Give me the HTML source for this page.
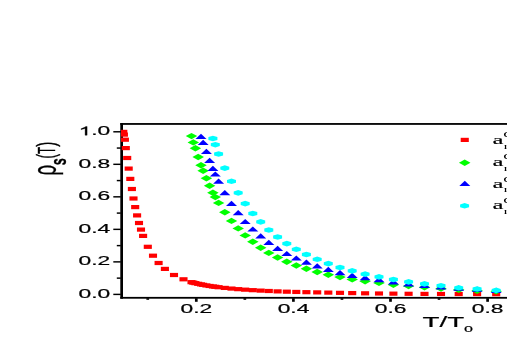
<!DOCTYPE html>
<html><head><meta charset="utf-8"><title>plot</title>
<style>
html,body{margin:0;padding:0;background:#fff;}
body{width:507px;height:338px;overflow:hidden;font-family:"Liberation Sans",sans-serif;}
svg{display:block;will-change:transform}
text{filter:grayscale(1)}
.s{font-family:"Liberation Sans",sans-serif;fill:#000;stroke:#000;stroke-width:0.2px}
.r{font-family:"Liberation Serif",serif;fill:#000;stroke:#000;stroke-width:0.2px}
.r2{font-family:"Liberation Serif",serif;fill:#000}
</style></head><body>
<svg width="507" height="338" viewBox="0 0 507 338">
<defs><clipPath id="cp"><rect x="121.0" y="123.8" width="400" height="173.6"/></clipPath></defs>
<rect x="0" y="0" width="507" height="338" fill="#ffffff"/>
<rect x="120.3" y="123.05" width="2.70" height="175.65" fill="#000000"/>
<rect x="120.3" y="123.05" width="386.7" height="1.80" fill="#000000"/>
<rect x="120.3" y="296.9" width="386.7" height="1.80" fill="#000000"/>
<rect x="113.3" y="293.67" width="7.50" height="1.45" fill="#000000"/>
<rect x="116.8" y="277.41" width="4.00" height="1.45" fill="#000000"/>
<rect x="113.3" y="261.15" width="7.50" height="1.45" fill="#000000"/>
<rect x="116.8" y="244.89" width="4.00" height="1.45" fill="#000000"/>
<rect x="113.3" y="228.63" width="7.50" height="1.45" fill="#000000"/>
<rect x="116.8" y="212.37" width="4.00" height="1.45" fill="#000000"/>
<rect x="113.3" y="196.11" width="7.50" height="1.45" fill="#000000"/>
<rect x="116.8" y="179.85" width="4.00" height="1.45" fill="#000000"/>
<rect x="113.3" y="163.59" width="7.50" height="1.45" fill="#000000"/>
<rect x="116.8" y="147.33" width="4.00" height="1.45" fill="#000000"/>
<rect x="113.3" y="131.07" width="7.50" height="1.45" fill="#000000"/>
<rect x="146.40" y="298.2" width="2.7" height="1.60" fill="#000000"/>
<rect x="194.95" y="298.2" width="2.7" height="3.60" fill="#000000"/>
<rect x="243.50" y="298.2" width="2.7" height="1.60" fill="#000000"/>
<rect x="292.05" y="298.2" width="2.7" height="3.60" fill="#000000"/>
<rect x="340.60" y="298.2" width="2.7" height="1.60" fill="#000000"/>
<rect x="389.15" y="298.2" width="2.7" height="3.60" fill="#000000"/>
<rect x="437.70" y="298.2" width="2.7" height="1.60" fill="#000000"/>
<rect x="486.25" y="298.2" width="2.7" height="3.60" fill="#000000"/>
<text transform="translate(78.60,297.81) scale(1.870,1)" font-size="12.20" font-weight="normal" class="s">0.0</text>
<text transform="translate(78.60,265.29) scale(1.870,1)" font-size="12.20" font-weight="normal" class="s">0.2</text>
<text transform="translate(78.60,232.77) scale(1.870,1)" font-size="12.20" font-weight="normal" class="s">0.4</text>
<text transform="translate(78.60,200.25) scale(1.870,1)" font-size="12.20" font-weight="normal" class="s">0.6</text>
<text transform="translate(78.60,167.73) scale(1.870,1)" font-size="12.20" font-weight="normal" class="s">0.8</text>
<text transform="translate(78.60,135.21) scale(1.870,1)" font-size="12.20" font-weight="normal" class="s"><tspan style="fill:none;stroke:none">1</tspan>.0</text><path transform="translate(78.60,135.21) scale(0.011140,-0.005957)" d="M763 0H583V1147Q518 1085 412 1023T223 930V1104Q373 1174 485 1275T644 1466H763Z" fill="#000" stroke="#000" stroke-width="40"/>
<text transform="translate(180.56,312.68) scale(1.870,1)" font-size="12.20" font-weight="normal" class="s">0.2</text>
<text transform="translate(277.66,312.68) scale(1.870,1)" font-size="12.20" font-weight="normal" class="s">0.4</text>
<text transform="translate(374.76,312.68) scale(1.870,1)" font-size="12.20" font-weight="normal" class="s">0.6</text>
<text transform="translate(471.86,312.68) scale(1.870,1)" font-size="12.20" font-weight="normal" class="s">0.8</text>
<text transform="translate(422.44,326.60) scale(1.880,1)" font-size="14.79" font-weight="normal" class="s">T/T</text>
<text transform="translate(464.05,331.69) scale(1.482,1)" font-size="10.91" font-weight="normal" class="s">o</text>
<text transform="translate(55.56,175.42) scale(1.816,1.0) rotate(-90)" font-size="18.72" font-weight="normal" class="s">ρ</text>
<text transform="translate(66.28,165.30) scale(1.753,1.0) rotate(-90)" font-size="12.55" font-weight="bold" class="s">s</text>
<text transform="translate(54.83,158.51) scale(1.936,1.0) rotate(-90)" font-size="13.46" font-weight="normal" class="s">(</text>
<text transform="translate(54.80,154.03) scale(2.028,1.0) rotate(-90)" font-size="11.58" font-weight="normal" class="s">T</text>
<text transform="translate(54.83,146.85) scale(1.738,1.0) rotate(-90)" font-size="15.00" font-weight="normal" class="s">)</text>
<g clip-path="url(#cp)">
<rect x="119.25" y="129.80" width="8.1" height="4.2" fill="#ff0000"/>
<rect x="119.85" y="132.50" width="8.1" height="4.2" fill="#ff0000"/>
<rect x="120.85" y="137.60" width="8.1" height="4.2" fill="#ff0000"/>
<rect x="121.75" y="146.00" width="8.1" height="4.2" fill="#ff0000"/>
<rect x="123.15" y="155.90" width="8.1" height="4.2" fill="#ff0000"/>
<rect x="124.65" y="166.50" width="8.1" height="4.2" fill="#ff0000"/>
<rect x="126.25" y="176.80" width="8.1" height="4.2" fill="#ff0000"/>
<rect x="127.85" y="186.90" width="8.1" height="4.2" fill="#ff0000"/>
<rect x="129.45" y="196.40" width="8.1" height="4.2" fill="#ff0000"/>
<rect x="131.15" y="205.00" width="8.1" height="4.2" fill="#ff0000"/>
<rect x="133.05" y="213.30" width="8.1" height="4.2" fill="#ff0000"/>
<rect x="134.95" y="220.90" width="8.1" height="4.2" fill="#ff0000"/>
<rect x="136.95" y="227.50" width="8.1" height="4.2" fill="#ff0000"/>
<rect x="139.05" y="233.80" width="8.1" height="4.2" fill="#ff0000"/>
<rect x="143.75" y="244.70" width="8.1" height="4.2" fill="#ff0000"/>
<rect x="148.95" y="253.60" width="8.1" height="4.2" fill="#ff0000"/>
<rect x="154.55" y="260.90" width="8.1" height="4.2" fill="#ff0000"/>
<rect x="160.85" y="266.80" width="8.1" height="4.2" fill="#ff0000"/>
<rect x="169.95" y="272.90" width="8.1" height="4.2" fill="#ff0000"/>
<rect x="179.45" y="277.20" width="8.1" height="4.2" fill="#ff0000"/>
<rect x="187.45" y="280.07" width="8.1" height="4.2" fill="#ff0000"/>
<rect x="189.25" y="280.54" width="8.1" height="4.2" fill="#ff0000"/>
<rect x="191.35" y="281.06" width="8.1" height="4.2" fill="#ff0000"/>
<rect x="194.15" y="281.71" width="8.1" height="4.2" fill="#ff0000"/>
<rect x="196.95" y="282.31" width="8.1" height="4.2" fill="#ff0000"/>
<rect x="199.10" y="282.74" width="8.1" height="4.2" fill="#ff0000"/>
<rect x="202.35" y="283.34" width="8.1" height="4.2" fill="#ff0000"/>
<rect x="205.55" y="283.87" width="8.1" height="4.2" fill="#ff0000"/>
<rect x="208.85" y="284.37" width="8.1" height="4.2" fill="#ff0000"/>
<rect x="211.25" y="284.69" width="8.1" height="4.2" fill="#ff0000"/>
<rect x="214.55" y="285.11" width="8.1" height="4.2" fill="#ff0000"/>
<rect x="220.75" y="285.81" width="8.1" height="4.2" fill="#ff0000"/>
<rect x="227.45" y="286.47" width="8.1" height="4.2" fill="#ff0000"/>
<rect x="234.15" y="287.05" width="8.1" height="4.2" fill="#ff0000"/>
<rect x="241.15" y="287.57" width="8.1" height="4.2" fill="#ff0000"/>
<rect x="248.75" y="288.06" width="8.1" height="4.2" fill="#ff0000"/>
<rect x="256.65" y="288.51" width="8.1" height="4.2" fill="#ff0000"/>
<rect x="264.75" y="288.90" width="8.1" height="4.2" fill="#ff0000"/>
<rect x="273.55" y="289.28" width="8.1" height="4.2" fill="#ff0000"/>
<rect x="282.75" y="289.59" width="8.1" height="4.2" fill="#ff0000"/>
<rect x="292.25" y="289.84" width="8.1" height="4.2" fill="#ff0000"/>
<rect x="302.35" y="290.07" width="8.1" height="4.2" fill="#ff0000"/>
<rect x="313.15" y="290.28" width="8.1" height="4.2" fill="#ff0000"/>
<rect x="324.25" y="290.51" width="8.1" height="4.2" fill="#ff0000"/>
<rect x="335.95" y="290.75" width="8.1" height="4.2" fill="#ff0000"/>
<rect x="348.15" y="290.99" width="8.1" height="4.2" fill="#ff0000"/>
<rect x="361.05" y="291.21" width="8.1" height="4.2" fill="#ff0000"/>
<rect x="374.95" y="291.39" width="8.1" height="4.2" fill="#ff0000"/>
<rect x="389.35" y="291.55" width="8.1" height="4.2" fill="#ff0000"/>
<rect x="404.55" y="291.69" width="8.1" height="4.2" fill="#ff0000"/>
<rect x="420.45" y="291.80" width="8.1" height="4.2" fill="#ff0000"/>
<rect x="436.95" y="291.87" width="8.1" height="4.2" fill="#ff0000"/>
<rect x="454.65" y="291.93" width="8.1" height="4.2" fill="#ff0000"/>
<rect x="473.05" y="292.00" width="8.1" height="4.2" fill="#ff0000"/>
<rect x="492.15" y="292.08" width="8.1" height="4.2" fill="#ff0000"/>
<polygon points="185.75,136.10 191.50,132.90 197.25,136.10 191.50,139.30" fill="#00ff00"/>
<polygon points="187.55,142.40 193.30,139.20 199.05,142.40 193.30,145.60" fill="#00ff00"/>
<polygon points="189.65,148.30 195.40,145.10 201.15,148.30 195.40,151.50" fill="#00ff00"/>
<polygon points="192.45,157.00 198.20,153.80 203.95,157.00 198.20,160.20" fill="#00ff00"/>
<polygon points="195.25,165.30 201.00,162.10 206.75,165.30 201.00,168.50" fill="#00ff00"/>
<polygon points="197.40,170.70 203.15,167.50 208.90,170.70 203.15,173.90" fill="#00ff00"/>
<polygon points="200.65,178.30 206.40,175.10 212.15,178.30 206.40,181.50" fill="#00ff00"/>
<polygon points="203.85,185.80 209.60,182.60 215.35,185.80 209.60,189.00" fill="#00ff00"/>
<polygon points="207.15,192.70 212.90,189.50 218.65,192.70 212.90,195.90" fill="#00ff00"/>
<polygon points="209.55,197.10 215.30,193.90 221.05,197.10 215.30,200.30" fill="#00ff00"/>
<polygon points="212.85,202.90 218.60,199.70 224.35,202.90 218.60,206.10" fill="#00ff00"/>
<polygon points="219.05,212.30 224.80,209.10 230.55,212.30 224.80,215.50" fill="#00ff00"/>
<polygon points="225.75,220.90 231.50,217.70 237.25,220.90 231.50,224.10" fill="#00ff00"/>
<polygon points="232.45,228.40 238.20,225.20 243.95,228.40 238.20,231.60" fill="#00ff00"/>
<polygon points="239.45,235.40 245.20,232.20 250.95,235.40 245.20,238.60" fill="#00ff00"/>
<polygon points="247.05,241.80 252.80,238.60 258.55,241.80 252.80,245.00" fill="#00ff00"/>
<polygon points="254.95,247.70 260.70,244.50 266.45,247.70 260.70,250.90" fill="#00ff00"/>
<polygon points="263.05,252.90 268.80,249.70 274.55,252.90 268.80,256.10" fill="#00ff00"/>
<polygon points="271.85,257.50 277.60,254.30 283.35,257.50 277.60,260.70" fill="#00ff00"/>
<polygon points="281.05,261.70 286.80,258.50 292.55,261.70 286.80,264.90" fill="#00ff00"/>
<polygon points="290.55,265.50 296.30,262.30 302.05,265.50 296.30,268.70" fill="#00ff00"/>
<polygon points="300.65,268.80 306.40,265.60 312.15,268.80 306.40,272.00" fill="#00ff00"/>
<polygon points="311.45,272.00 317.20,268.80 322.95,272.00 317.20,275.20" fill="#00ff00"/>
<polygon points="322.55,274.70 328.30,271.50 334.05,274.70 328.30,277.90" fill="#00ff00"/>
<polygon points="334.25,277.10 340.00,273.90 345.75,277.10 340.00,280.30" fill="#00ff00"/>
<polygon points="346.45,279.40 352.20,276.20 357.95,279.40 352.20,282.60" fill="#00ff00"/>
<polygon points="359.35,281.20 365.10,278.00 370.85,281.20 365.10,284.40" fill="#00ff00"/>
<polygon points="373.25,282.90 379.00,279.70 384.75,282.90 379.00,286.10" fill="#00ff00"/>
<polygon points="387.65,284.70 393.40,281.50 399.15,284.70 393.40,287.90" fill="#00ff00"/>
<polygon points="402.85,286.10 408.60,282.90 414.35,286.10 408.60,289.30" fill="#00ff00"/>
<polygon points="418.75,287.30 424.50,284.10 430.25,287.30 424.50,290.50" fill="#00ff00"/>
<polygon points="435.25,288.50 441.00,285.30 446.75,288.50 441.00,291.70" fill="#00ff00"/>
<polygon points="452.95,289.70 458.70,286.50 464.45,289.70 458.70,292.90" fill="#00ff00"/>
<polygon points="471.35,290.70 477.10,287.50 482.85,290.70 477.10,293.90" fill="#00ff00"/>
<polygon points="490.45,291.20 496.20,288.00 501.95,291.20 496.20,294.40" fill="#00ff00"/>
<polygon points="195.50,139.00 201.00,133.80 206.50,139.00" fill="#0000ff"/>
<polygon points="197.65,144.90 203.15,139.70 208.65,144.90" fill="#0000ff"/>
<polygon points="200.90,154.00 206.40,148.80 211.90,154.00" fill="#0000ff"/>
<polygon points="204.10,163.00 209.60,157.80 215.10,163.00" fill="#0000ff"/>
<polygon points="207.40,171.00 212.90,165.80 218.40,171.00" fill="#0000ff"/>
<polygon points="209.80,176.60 215.30,171.40 220.80,176.60" fill="#0000ff"/>
<polygon points="213.10,183.80 218.60,178.60 224.10,183.80" fill="#0000ff"/>
<polygon points="219.30,195.30 224.80,190.10 230.30,195.30" fill="#0000ff"/>
<polygon points="226.00,205.90 231.50,200.70 237.00,205.90" fill="#0000ff"/>
<polygon points="232.70,215.20 238.20,210.00 243.70,215.20" fill="#0000ff"/>
<polygon points="239.70,224.10 245.20,218.90 250.70,224.10" fill="#0000ff"/>
<polygon points="247.30,231.60 252.80,226.40 258.30,231.60" fill="#0000ff"/>
<polygon points="255.20,238.50 260.70,233.30 266.20,238.50" fill="#0000ff"/>
<polygon points="263.30,245.00 268.80,239.80 274.30,245.00" fill="#0000ff"/>
<polygon points="272.10,250.90 277.60,245.70 283.10,250.90" fill="#0000ff"/>
<polygon points="281.30,256.10 286.80,250.90 292.30,256.10" fill="#0000ff"/>
<polygon points="290.80,260.60 296.30,255.40 301.80,260.60" fill="#0000ff"/>
<polygon points="300.90,264.70 306.40,259.50 311.90,264.70" fill="#0000ff"/>
<polygon points="311.70,268.50 317.20,263.30 322.70,268.50" fill="#0000ff"/>
<polygon points="322.80,272.00 328.30,266.80 333.80,272.00" fill="#0000ff"/>
<polygon points="334.50,275.30 340.00,270.10 345.50,275.30" fill="#0000ff"/>
<polygon points="346.70,277.90 352.20,272.70 357.70,277.90" fill="#0000ff"/>
<polygon points="359.60,280.20 365.10,275.00 370.60,280.20" fill="#0000ff"/>
<polygon points="373.50,282.30 379.00,277.10 384.50,282.30" fill="#0000ff"/>
<polygon points="387.90,284.40 393.40,279.20 398.90,284.40" fill="#0000ff"/>
<polygon points="403.10,286.60 408.60,281.40 414.10,286.60" fill="#0000ff"/>
<polygon points="419.00,287.90 424.50,282.70 430.00,287.90" fill="#0000ff"/>
<polygon points="435.50,289.60 441.00,284.40 446.50,289.60" fill="#0000ff"/>
<polygon points="453.20,290.80 458.70,285.60 464.20,290.80" fill="#0000ff"/>
<polygon points="471.60,291.70 477.10,286.50 482.60,291.70" fill="#0000ff"/>
<polygon points="490.70,292.90 496.20,287.70 501.70,292.90" fill="#0000ff"/>
<polygon points="212.90,135.70 217.40,137.10 217.40,139.90 212.90,141.30 208.40,139.90 208.40,137.10" fill="#00ffff"/>
<polygon points="215.30,141.90 219.80,143.30 219.80,146.10 215.30,147.50 210.80,146.10 210.80,143.30" fill="#00ffff"/>
<polygon points="218.60,151.20 223.10,152.60 223.10,155.40 218.60,156.80 214.10,155.40 214.10,152.60" fill="#00ffff"/>
<polygon points="224.80,165.30 229.30,166.70 229.30,169.50 224.80,170.90 220.30,169.50 220.30,166.70" fill="#00ffff"/>
<polygon points="231.50,178.50 236.00,179.90 236.00,182.70 231.50,184.10 227.00,182.70 227.00,179.90" fill="#00ffff"/>
<polygon points="238.20,190.10 242.70,191.50 242.70,194.30 238.20,195.70 233.70,194.30 233.70,191.50" fill="#00ffff"/>
<polygon points="245.20,200.80 249.70,202.20 249.70,205.00 245.20,206.40 240.70,205.00 240.70,202.20" fill="#00ffff"/>
<polygon points="252.80,210.70 257.30,212.10 257.30,214.90 252.80,216.30 248.30,214.90 248.30,212.10" fill="#00ffff"/>
<polygon points="260.70,219.10 265.20,220.50 265.20,223.30 260.70,224.70 256.20,223.30 256.20,220.50" fill="#00ffff"/>
<polygon points="268.80,227.20 273.30,228.60 273.30,231.40 268.80,232.80 264.30,231.40 264.30,228.60" fill="#00ffff"/>
<polygon points="277.60,234.20 282.10,235.60 282.10,238.40 277.60,239.80 273.10,238.40 273.10,235.60" fill="#00ffff"/>
<polygon points="286.80,240.80 291.30,242.20 291.30,245.00 286.80,246.40 282.30,245.00 282.30,242.20" fill="#00ffff"/>
<polygon points="296.30,246.50 300.80,247.90 300.80,250.70 296.30,252.10 291.80,250.70 291.80,247.90" fill="#00ffff"/>
<polygon points="306.40,251.70 310.90,253.10 310.90,255.90 306.40,257.30 301.90,255.90 301.90,253.10" fill="#00ffff"/>
<polygon points="317.20,256.50 321.70,257.90 321.70,260.70 317.20,262.10 312.70,260.70 312.70,257.90" fill="#00ffff"/>
<polygon points="328.30,260.80 332.80,262.20 332.80,265.00 328.30,266.40 323.80,265.00 323.80,262.20" fill="#00ffff"/>
<polygon points="340.00,264.70 344.50,266.10 344.50,268.90 340.00,270.30 335.50,268.90 335.50,266.10" fill="#00ffff"/>
<polygon points="352.20,268.10 356.70,269.50 356.70,272.30 352.20,273.70 347.70,272.30 347.70,269.50" fill="#00ffff"/>
<polygon points="365.10,271.30 369.60,272.70 369.60,275.50 365.10,276.90 360.60,275.50 360.60,272.70" fill="#00ffff"/>
<polygon points="379.00,274.10 383.50,275.50 383.50,278.30 379.00,279.70 374.50,278.30 374.50,275.50" fill="#00ffff"/>
<polygon points="393.40,276.70 397.90,278.10 397.90,280.90 393.40,282.30 388.90,280.90 388.90,278.10" fill="#00ffff"/>
<polygon points="408.60,279.10 413.10,280.50 413.10,283.30 408.60,284.70 404.10,283.30 404.10,280.50" fill="#00ffff"/>
<polygon points="424.50,281.10 429.00,282.50 429.00,285.30 424.50,286.70 420.00,285.30 420.00,282.50" fill="#00ffff"/>
<polygon points="441.00,282.90 445.50,284.30 445.50,287.10 441.00,288.50 436.50,287.10 436.50,284.30" fill="#00ffff"/>
<polygon points="458.70,285.00 463.20,286.40 463.20,289.20 458.70,290.60 454.20,289.20 454.20,286.40" fill="#00ffff"/>
<polygon points="477.10,286.20 481.60,287.60 481.60,290.40 477.10,291.80 472.60,290.40 472.60,287.60" fill="#00ffff"/>
<polygon points="496.20,287.60 500.70,289.00 500.70,291.80 496.20,293.20 491.70,291.80 491.70,289.00" fill="#00ffff"/>
</g>
<rect x="460.70" y="137.80" width="8.1" height="4.2" fill="#ff0000"/>
<polygon points="458.95,162.80 464.70,159.60 470.45,162.80 464.70,166.00" fill="#00ff00"/>
<polygon points="459.30,185.90 464.80,180.70 470.30,185.90" fill="#0000ff"/>
<polygon points="464.60,203.00 469.10,204.40 469.10,207.20 464.60,208.60 460.10,207.20 460.10,204.40" fill="#00ffff"/>
<text transform="translate(492.75,143.97) scale(1.846,1)" font-size="12.92" font-weight="normal" class="r">a</text>
<text transform="translate(503.19,136.84) scale(1.679,1)" font-size="10.62" font-weight="normal" class="r2">c</text>
<text transform="translate(503.80,149.09) scale(1.725,1)" font-size="8.70" font-weight="normal" class="r2">r</text>
<text transform="translate(492.75,166.17) scale(1.846,1)" font-size="12.92" font-weight="normal" class="r">a</text>
<text transform="translate(503.19,159.39) scale(1.679,1)" font-size="10.62" font-weight="normal" class="r2">c</text>
<text transform="translate(503.80,170.94) scale(1.725,1)" font-size="8.70" font-weight="normal" class="r2">r</text>
<text transform="translate(492.75,187.87) scale(1.846,1)" font-size="12.92" font-weight="normal" class="r">a</text>
<text transform="translate(503.19,182.24) scale(1.679,1)" font-size="10.62" font-weight="normal" class="r2">c</text>
<text transform="translate(503.80,192.29) scale(1.725,1)" font-size="8.70" font-weight="normal" class="r2">r</text>
<text transform="translate(492.75,209.27) scale(1.846,1)" font-size="12.92" font-weight="normal" class="r">a</text>
<text transform="translate(503.19,202.64) scale(1.679,1)" font-size="10.62" font-weight="normal" class="r2">c</text>
<text transform="translate(503.80,214.49) scale(1.725,1)" font-size="8.70" font-weight="normal" class="r2">r</text>
</svg>
</body></html>
